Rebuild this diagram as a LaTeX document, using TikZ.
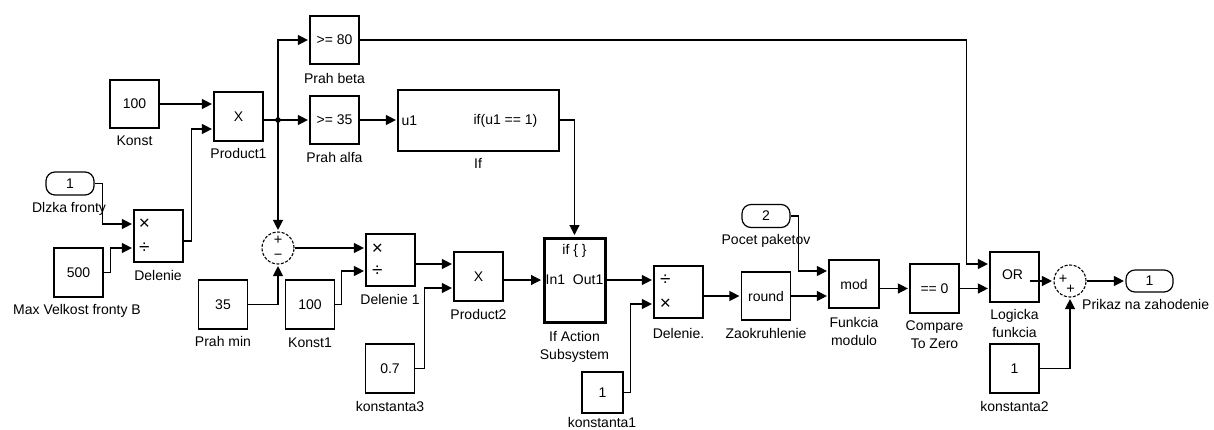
\documentclass[tikz,border=0pt]{standalone}
\usepackage{fontspec}
\setmainfont{Liberation Sans}
\usetikzlibrary{arrows.meta,calc}
\newcommand\lf{\fontsize{14}{18}\selectfont}
\newcommand\sgfont{\fontsize{19}{20}\selectfont}
\newcommand\plfont{\fontsize{14.5}{16}\selectfont}
\tikzset{
  blk/.style={draw, line width=1.2pt, inner sep=0pt, minimum width=49pt, minimum height=48pt, font=\lf},
  port/.style={draw, line width=1.2pt, rounded corners=9pt, inner sep=0pt, minimum width=48pt, minimum height=23pt, font=\lf},
  sumc/.style={circle, draw, line width=1.1pt, dash pattern=on 3pt off 1.6pt, inner sep=0pt, minimum size=32pt},
  lbl/.style={inner sep=0pt, anchor=north, font=\lf, align=center},
  txt/.style={inner sep=0pt, font=\lf},
  sgn/.style={inner sep=0pt, font=\sgfont},
  spl/.style={inner sep=0pt, font=\plfont},
  wire/.style={line width=1.2pt},
  arr/.style={line width=1.2pt, -{Triangle[length=10pt,width=10pt]}, shorten >=1.5pt},
}
\begin{document}
\begin{tikzpicture}[x=1pt, y=-1pt]
\fill[white] (0,0) rectangle (1214,429);
\useasboundingbox (0,0) rectangle (1214,429);

% ---- blocks ----
\node[blk] (konst) at (134.5,104) {100};
\node[blk, minimum height=49pt] (prod1) at (238.5,116.5) {X};
\node[port] (dlzka) at (70,183.5) {1};
\node[blk, minimum height=52pt] (delenie) at (158.5,236) {};
\node[blk, minimum height=49pt] (c500) at (78.5,272.5) {500};
\node[blk] (beta) at (334.5,40) {>= 80};
\node[blk] (alfa) at (334.5,120) {>= 35};
\node[draw, line width=1.2pt, inner sep=0pt, minimum width=161pt, minimum height=61pt] (ifb) at (478.5,120.5) {};
\node[sumc] (sum1) at (278,248) {};
\node[blk, minimum height=49pt] (prahmin) at (223,304.5) {35};
\node[blk, minimum height=49pt] (konst1) at (310,304.5) {100};
\node[blk, minimum height=52pt] (del1) at (390.5,260) {};
\node[blk, minimum height=49pt] (prod2) at (478.5,276.5) {X};
\node[blk, minimum height=49pt] (c07) at (390,368.5) {0.7};
\node[draw, line width=3pt, inner sep=0pt, minimum width=61pt, minimum height=84pt] (ifa) at (574.5,280) {};
\node[blk, minimum height=52pt] (delp) at (678.5,292) {};
\node[blk, minimum width=41pt, minimum height=41pt] (k1) at (602.5,392.5) {1};
\node[blk] (rnd) at (766,296) {round};
\node[port] (pocet) at (766,216) {2};
\node[blk, minimum width=50pt] (modb) at (854,284) {mod};
\node[blk, minimum height=49pt] (cmp) at (934.5,288.5) {== 0};
\node[blk, minimum height=50pt] (orb) at (1014.5,277) {};
\node[sumc] (sum2) at (1070,281) {};
\node[blk, minimum height=49pt] (k2) at (1014.5,368.5) {1};
\node[port, minimum width=47pt, minimum height=22pt] (outp) at (1149.5,281) {1};

% ---- block icons ----
\node[txt, anchor=west] (ifu) at ([xshift=4pt]ifb.west) {u1};
\node[txt, anchor=east] (ifo) at ([xshift=-22pt]ifb.east) {if(u1 == 1)};
\node[txt] (ifah) at ([yshift=-14pt]ifa.north) {if \{ \}};
\node[txt, anchor=west] (ifain) at ([xshift=3pt]ifa.west) {In1};
\node[txt, anchor=east] (ifaout) at ([xshift=-3pt]ifa.east) {Out1};
\node[sgn] (dm1) at ([xshift=11pt,yshift=12pt]delenie.west) {×};
\node[sgn] (dd1) at ([xshift=11pt,yshift=-12pt]delenie.west) {÷};
\node[sgn] (dm2) at ([xshift=12pt,yshift=11pt]del1.west) {×};
\node[sgn] (dd2) at ([xshift=12pt,yshift=-11pt]del1.west) {÷};
\node[sgn] (dd3) at ([xshift=12pt,yshift=12pt]delp.west) {÷};
\node[sgn] (dm3) at ([xshift=12pt,yshift=-12pt]delp.west) {×};
\node[spl] (s1p) at ([yshift=8pt]sum1.center) {+};
\node[spl] (s1m) at ([yshift=-9pt]sum1.center) {−};
\node[spl] (s2a) at ([xshift=-7pt,yshift=1.5pt]sum2.center) {+};
\node[spl] (s2b) at ([xshift=0.5pt,yshift=-8pt]sum2.center) {+};
\node[txt] (ortxt) at ([xshift=-2pt,yshift=2pt]orb.center) {OR};
\draw[wire] ([xshift=-10pt,yshift=-4pt]orb.east) -- ([yshift=-4pt]orb.east);

% ---- labels ----
\node[lbl] (konstL) at (134.5,136) {Konst};
\node[lbl] (prod1L) at (238.5,148) {Product1};
\node[lbl] (dlzkaL) at (69,202) {Dlzka fronty};
\node[lbl] (delenieL) at (158,270) {Delenie};
\node[lbl] (c500L) at (77,304) {Max Velkost fronty B};
\node[lbl] (prahminL) at (223,336) {Prah min};
\node[lbl] (konst1L) at (310,338) {Konst1};
\node[lbl] (betaL) at (334.5,73) {Prah beta};
\node[lbl] (alfaL) at (334.5,152) {Prah alfa};
\node[lbl] (ifbL) at (478,158) {If};
\node[lbl] (del1L) at (390,294) {Delenie 1};
\node[lbl] (prod2L) at (478.5,309) {Product2};
\node[lbl] (c07L) at (390,401) {konstanta3};
\node[lbl] (ifaL) at (574.5,331) {If Action\\Subsystem};
\node[lbl] (delpL) at (678.5,328) {Delenie.};
\node[lbl] (rndL) at (766,328) {Zaokruhlenie};
\node[lbl] (k1L) at (602,417) {konstanta1};
\node[lbl] (pocetL) at (766,234) {Pocet paketov};
\node[lbl] (modL) at (854,317) {Funkcia\\modulo};
\node[lbl] (cmpL) at (934.5,321) {Compare\\To Zero};
\node[lbl] (orL) at (1014.5,309) {Logicka\\funkcia};
\node[lbl] (k2L) at (1014.5,401) {konstanta2};
\node[lbl, anchor=north west] (outpL) at (1082,299) {Prikaz na zahodenie};

% ---- connectors ----
\coordinate (j1) at (sum1.north |- alfa.west);
\draw[arr] (konst.east) -- (prod1.west |- konst.east);
\draw[arr] (dlzka.east) -- ++(8,0) |- ([yshift=12pt]delenie.west);
\draw[arr] (c500.east) -- ++(7,0) |- ([yshift=-12pt]delenie.west);
\draw[arr] ([yshift=-5pt]delenie.east) -- ++(8,0) |- ([yshift=-12.5pt]prod1.west);
\draw[arr] ([yshift=-3.5pt]prod1.east) -- (alfa.west);
\fill (j1) circle (2.8pt);
\draw[arr] (j1) |- (beta.west);
\draw[arr] (j1) -- (sum1.north);
\draw[arr] (beta.east) -| ([xshift=-23pt,yshift=13pt]orb.west) -- ([yshift=13pt]orb.west);
\draw[arr] (alfa.east) -- (ifb.west |- alfa.east);
\draw[arr] (ifb.east |- alfa.east) -| (ifa.north);
\draw[arr] (prahmin.east) -| (sum1.south);
\draw[arr] (sum1.east) -- (del1.west |- sum1.east);
\draw[arr] (konst1.east) -- ++(6,0) |- ([yshift=-11pt]del1.west);
\draw[arr] ([yshift=-4pt]del1.east) -- ([yshift=12.5pt]prod2.west);
\draw[arr] (c07.east) -- ++(9,0) |- ([yshift=-11.5pt]prod2.west);
\draw[arr] ([yshift=-3.5pt]prod2.east) -- (ifa.west);
\draw[arr] (ifa.east) -- ([yshift=12pt]delp.west);
\draw[arr] (k1.east) -- ++(7,0) |- ([yshift=-12pt]delp.west);
\draw[arr] (delp.east |- rnd.west) -- (rnd.west);
\draw[arr] (pocet.east) -- ++(8,0) |- ([yshift=13pt]modb.west);
\draw[arr] (rnd.east) -- (modb.west |- rnd.east);
\draw[arr] (modb.east |- cmp.west) -- (cmp.west);
\draw[arr] (cmp.east) -- (orb.west |- cmp.east);
\draw[arr] (orb.east |- sum2.west) -- (sum2.west);
\draw[arr] (k2.east) -| (sum2.south);
\draw[arr] (sum2.east) -- (outp.west);
\end{tikzpicture}
\end{document}
